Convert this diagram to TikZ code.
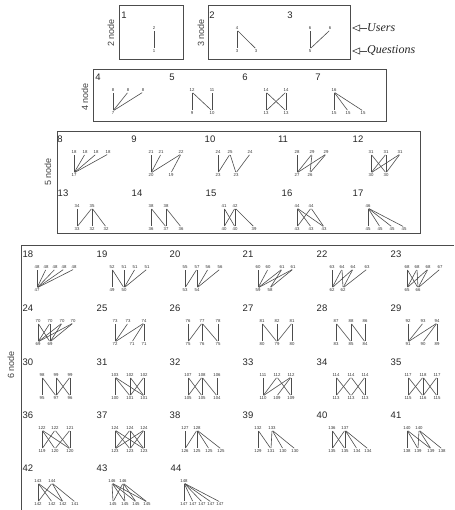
\documentclass[tikz,border=0pt]{standalone}
\usepackage{fontspec}
\setmainfont{Liberation Sans}
\newfontfamily\serifit{Liberation Serif}
\usetikzlibrary{arrows.meta}
\tikzset{
 pnum/.style={font=\fontsize{9.5}{10}\selectfont, text=black!85, inner sep=0pt},
 vlab/.style={font=\fontsize{4.3}{5}\selectfont, text=black!80, inner sep=0.4pt},
 edg/.style={draw=black!70, line width=0.6pt, shorten >=1pt, shorten <=1pt},
 frame/.style={draw=black!70, line width=0.8pt},
 ntext/.style={font=\fontsize{9}{10}\selectfont, text=black!75, rotate=90, inner sep=0pt},
 lgd/.style={font=\serifit\itshape\fontsize{12}{13}\selectfont, text=black!85, anchor=west, inner sep=0pt},
 lgarrow/.style={draw=black!70, line width=0.6pt, -{Triangle[open,length=8pt,width=7pt]}},
}
\newcommand\gph[6]{%
 \node[pnum] (n#1) at (#2,#3) {#1};
 \foreach \xx/\lab [count=\i] in {#4} {\node[vlab] (t#1-\i) at (\xx,#3+13) {\lab};}
 \foreach \xx/\lab [count=\i] in {#5} {\node[vlab] (b#1-\i) at (\xx,#3+36) {\lab};}
 \foreach \a/\b in {#6} {\draw[edg] (t#1-\a.south) -- (b#1-\b.north);}
}
\begin{document}
\begin{tikzpicture}[x=1pt,y=-1pt]
\useasboundingbox (0,0) rectangle (454,510);
% frames
\draw[frame] (119,5) rectangle (183,59);
\draw[frame] (208,5) rectangle (350,59);
\draw[frame] (93,69) rectangle (386,121);
\draw[frame] (57,131) rectangle (420,233);
\draw[frame] (454,245) -- (21,245) -- (21,510);
% side labels
\node[ntext] (l2) at (111,33) {2 node};
\node[ntext] (l3) at (201,33) {3 node};
\node[ntext] (l4) at (85,97) {4 node};
\node[ntext] (l5) at (48,172) {5 node};
\node[ntext] (l6) at (11,365) {6 node};
% legend
\node[lgd] (usr) at (367,28) {Users};
\node[lgd] (qst) at (367,51) {Questions};
\coordinate (ua) at (352,28);
\coordinate (qa) at (352,51);
\draw[lgarrow] (usr.west) -- (ua);
\draw[lgarrow] (qst.west) -- (qa);
% 2-3 nodes
\gph{1}{124}{15}{154/2}{154/1}{1/1}
\gph{2}{212}{15}{237/4}{237/3,256/3}{1/1,1/2}
\gph{3}{290}{15}{310/6,330/6}{310/5}{1/1,2/1}
% 4 nodes
\gph{4}{98}{77}{113/8,128/8,143/8}{113/7}{1/1,2/1,3/1}
\gph{5}{172}{77}{192/12,212/11}{192/9,212/10}{1/1,1/2,2/2}
\gph{6}{245}{77}{266/14,286/14}{266/13,286/13}{1/1,1/2,2/1,2/2}
\gph{7}{318}{77}{334/16}{334/15,348/15,363/15}{1/1,1/2,1/3}
% 5 nodes
\gph{8}{60}{139}{74/18,85/18,96/18,108/18}{74/17}{1/1,2/1,3/1,4/1}
\gph{9}{134}{139}{151/21,161/21,181/22}{151/20,171/19}{1/1,2/1,3/1,3/2}
\gph{10}{210}{139}{218/24,230/25,250/24}{218/23,236/23}{1/1,2/1,2/2,3/2}
\gph{11}{283}{139}{297/28,312/29,326/29}{297/27,310/26}{1/1,2/1,3/1,2/2,3/2}
\gph{12}{358}{139}{371/31,386/31,400/31}{371/30,386/30}{1/1,1/2,2/1,2/2,3/1,3/2}
\gph{13}{63}{193}{77/34,92/35}{77/33,92/32,106/32}{1/1,2/1,2/2,2/3}
\gph{14}{137}{193}{151/38,166/38}{151/36,166/37,181/36}{1/1,1/2,2/2,2/3}
\gph{15}{211}{193}{224/41,235/42}{224/40,235/40,254/39}{1/1,1/2,2/1,2/2,2/3}
\gph{16}{287}{193}{297/44,311/44}{297/43,311/43,324/43}{1/1,1/2,1/3,2/1,2/3}
\gph{17}{358}{193}{368/46}{368/45,380/45,392/45,404/45}{1/1,1/2,1/3,1/4}
% 6 nodes
\gph{18}{28}{254}{37/48,46/48,55/48,64/48,74/48}{37/47}{1/1,2/1,3/1,4/1,5/1}
\gph{19}{102}{254}{112/52,124/51,135/51,147/51}{112/49,124/50}{1/1,1/2,2/2,3/2,4/2}
\gph{20}{175}{254}{185/55,197/57,208/56,220/56}{185/53,197/54}{1/1,2/1,2/2,3/2,4/2}
\gph{21}{248}{254}{258/60,268/60,282/61,293/61}{258/59,270/58}{1/1,2/1,3/1,3/2,4/1,4/2}
\gph{22}{322}{254}{332/63,342/64,353/64,367/63}{332/62,343/62}{1/1,2/1,2/2,3/1,3/2,4/2}
\gph{23}{396}{254}{407/68,417/68,428/68,440/67}{407/65,418/66}{1/1,1/2,2/1,2/2,3/1,3/2,4/2}
\gph{24}{28}{308}{38/70,50/70,62/70,73/70}{38/69,50/69}{1/1,1/2,2/1,2/2,3/1,3/2,4/1,4/2}
\gph{25}{102}{308}{115/73,128/73,144/74}{115/72,132/71,144/71}{1/1,2/1,3/1,3/2,3/3}
\gph{26}{175}{308}{188/76,202/77,218/78}{188/75,202/76,218/75}{1/1,2/1,2/2,2/3,3/3}
\gph{27}{248}{308}{262/81,277/82,292/81}{262/80,277/79,292/80}{1/1,1/2,2/2,3/2,3/3}
\gph{28}{322}{308}{336/87,351/88,365/86}{336/83,351/85,365/84}{1/1,1/2,2/2,2/3,3/3}
\gph{29}{396}{308}{408/92,423/93,437/94}{408/91,423/90,437/89}{1/1,2/1,3/1,3/2,3/3}
\gph{30}{28}{362}{42/98,56/99,70/99}{42/95,56/97,70/96}{1/1,1/2,2/2,2/3,3/2,3/3}
\gph{31}{102}{362}{115/103,130/102,144/102}{115/100,130/101,144/101}{1/1,1/2,1/3,2/2,2/3,3/2,3/3}
\gph{32}{175}{362}{188/107,202/108,217/106}{188/105,202/105,217/104}{1/1,1/2,2/1,2/2,2/3,3/3}
\gph{33}{248}{362}{263/111,277/112,291/112}{263/110,277/109,291/109}{1/1,2/1,3/1,2/3,3/2,3/3}
\gph{34}{322}{362}{336/114,351/114,365/114}{336/113,351/113,365/113}{1/1,1/2,2/1,2/3,3/2,3/3}
\gph{35}{396}{362}{408/117,423/118,437/117}{408/115,423/116,437/115}{1/1,1/2,2/1,2/2,2/3,3/2,3/3}
\gph{36}{28}{415}{42/122,55/122,70/121}{42/119,55/120,70/120}{1/1,1/2,1/3,2/1,2/3,3/2,3/3}
\gph{37}{102}{415}{115/124,130/124,144/124}{115/123,130/123,144/123}{1/1,1/2,1/3,2/1,2/2,2/3,3/1,3/2,3/3}
\gph{38}{175}{415}{185/127,197/128}{185/126,197/125,209/125,221/125}{1/1,2/1,2/2,2/3,2/4}
\gph{39}{248}{415}{258/132,272/133}{258/129,271/131,283/130,295/130}{1/1,1/2,2/2,2/3,2/4}
\gph{40}{322}{415}{332/136,345/137}{332/135,345/135,357/134,368/134}{1/1,1/2,2/1,2/2,2/3,2/4}
\gph{41}{396}{415}{407/140,419/140}{407/138,418/139,431/139,442/138}{1/1,1/2,1/3,2/2,2/3,2/4}
\gph{42}{28}{468}{38/143,52/144}{38/142,52/142,63/142,75/141}{1/1,1/2,1/3,2/1,2/3,2/4}
\gph{43}{102}{468}{112/146,123/146}{113/145,125/145,136/145,147/145}{1/1,1/2,1/3,1/4,2/1,2/2,2/3,2/4}
\gph{44}{176}{468}{184/148}{184/147,193/147,202/147,211/147,220/147}{1/1,1/2,1/3,1/4,1/5}
\end{tikzpicture}
\end{document}
